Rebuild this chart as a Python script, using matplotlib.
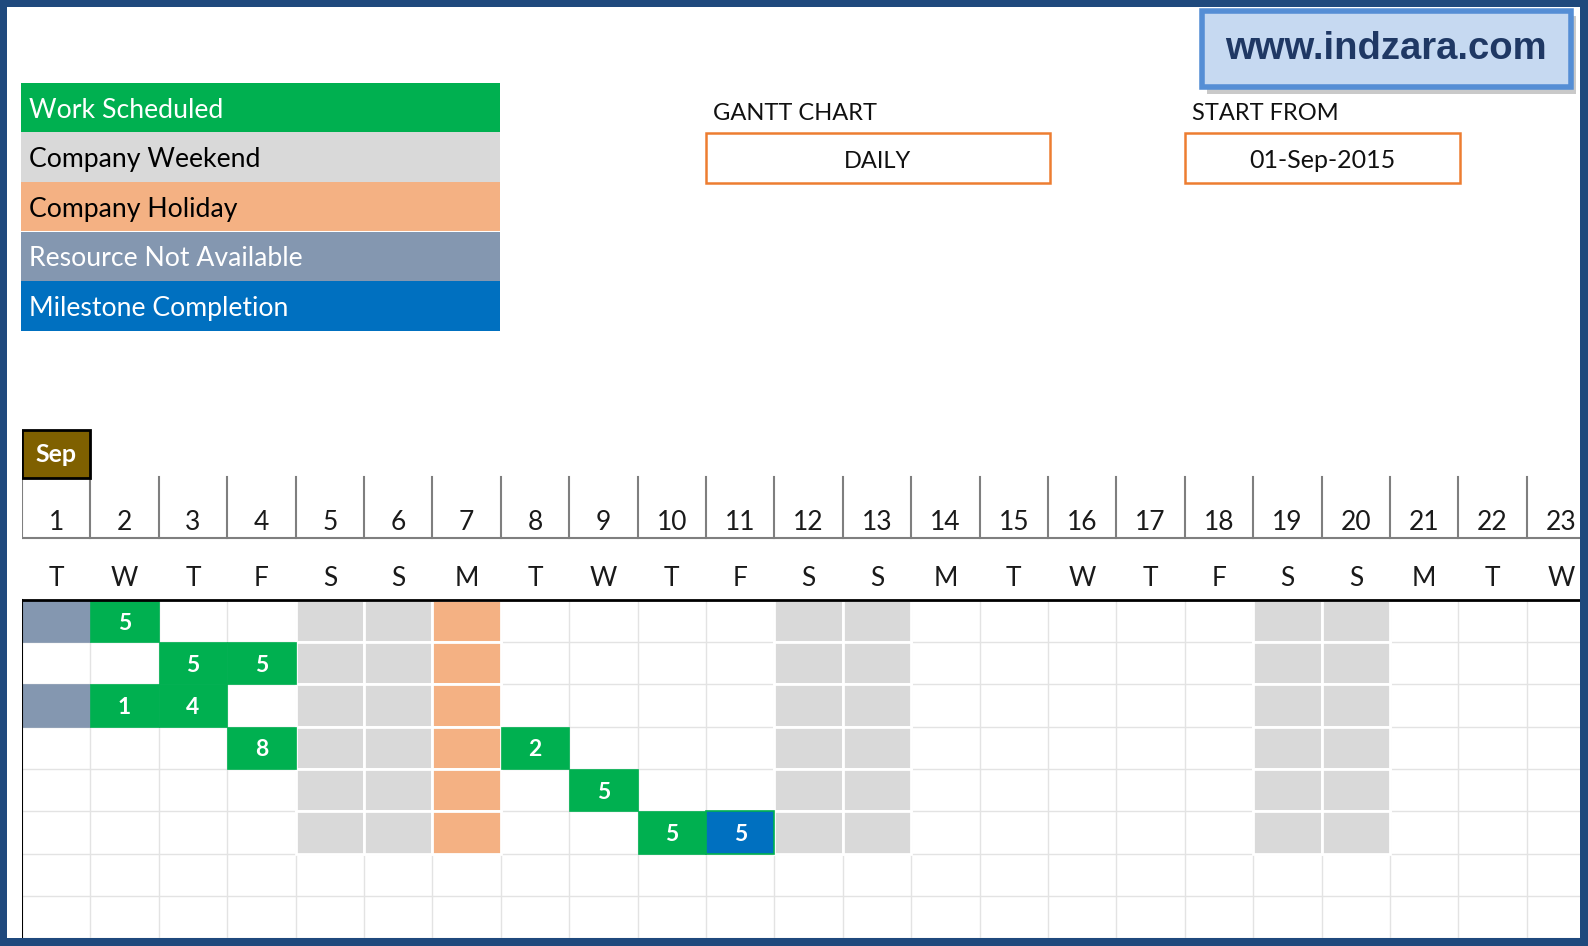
#!/usr/bin/env python3
"""
Daily gantt chart snapshot (indzara template look)
"""

import matplotlib
matplotlib.use("Agg")
from matplotlib import pyplot as plt
from matplotlib.patches import Rectangle

plt.rcParams["font.family"] = ["Lato", "DejaVu Sans"]

# ---- data ----
legend_labels = ["Work Scheduled", "Company Weekend", "Company Holiday",
                 "Resource Not Available", "Milestone Completion"]
legend_colors = ["#00b050", "#d9d9d9", "#f4b183", "#8497b0", "#0070c0"]
legend_text_colors = ["white", "black", "black", "white", "white"]

month_label = "Sep"
days = list(range(1, 24))
day_letters = ["T", "W", "T", "F", "S", "S", "M", "T", "W", "T", "F", "S",
               "S", "M", "T", "W", "T", "F", "S", "S", "M", "T", "W"]
weekend_days = [5, 6, 12, 13, 19, 20]
holiday_days = [7]
task_rows = 6
total_rows = 8

work_rows = [1, 2, 2, 3, 3, 4, 4, 5, 6]
work_days = [2, 3, 4, 2, 3, 4, 8, 9, 10]
work_hours = [5, 5, 5, 1, 4, 8, 2, 5, 5]

milestone_rows = [6]
milestone_days = [11]
milestone_hours = [5]

unavail_rows = [1, 3]
unavail_days = [1, 1]

chart_type = "DAILY"
start_from = "01-Sep-2015"
site = "www.indzara.com"

# ---- figure ----
W, H = 1588, 946
fig = plt.figure(figsize=(W / 100, H / 100), dpi=100)

bg = fig.add_axes([0, 0, 1, 1])
bg.set_xlim(0, W); bg.set_ylim(H, 0); bg.axis("off")

# legend block
for i, (lab, col, tc) in enumerate(zip(legend_labels, legend_colors, legend_text_colors)):
    y0 = 83 + i * 49.5
    bg.add_patch(Rectangle((21, y0), 479, 49.5, fc=col, ec="none"))
    bg.text(29, y0 + 27, lab, color=tc, fontsize=19.2, va="center", ha="left")

# gantt chart / start from boxes
bg.text(713, 113, "GANTT CHART", fontsize=17, va="center", color="#111111")
bg.add_patch(Rectangle((706, 133), 344, 50, fc="white", ec="#ed7d31", lw=1.8))
bg.text(878, 162, chart_type, fontsize=17, va="center", ha="center", color="#111111")

bg.text(1192, 113, "START FROM", fontsize=17, va="center", color="#111111")
bg.add_patch(Rectangle((1185, 133), 275, 50, fc="white", ec="#ed7d31", lw=1.8))
bg.text(1322, 161, start_from, fontsize=18, va="center", ha="center", color="#111111")

# site badge with shadow
bg.add_patch(Rectangle((1207, 16), 369, 78, fc="#a6a6a6", ec="none", alpha=0.6))
bg.add_patch(Rectangle((1202, 11), 369, 76, fc="#c6d9f1", ec="#558ed5", lw=4))
bg.text(1386, 49, site, fontsize=27.5, fontweight="bold", family="Liberation Sans",
        va="center", ha="center", color="#1f3864")

# ---- gantt grid ----
col_w = 68.4
row_h = 42.25
x_left, x_right = 22, 1580
y_top, y_bot = 425, 938
ax = fig.add_axes([x_left / W, (H - y_bot) / H, (x_right - x_left) / W, (y_bot - y_top) / H])
ax.set_xlim(0.5, 0.5 + (x_right - x_left) / col_w)
ax.set_ylim(total_rows, -(600 - y_top) / row_h)
ax.axis("off")

xmax = ax.get_xlim()[1]

# light cell grid
for d in days:
    ax.plot([d + 0.5, d + 0.5], [0, total_rows], color="#e3e3e3", lw=1, zorder=1)
for r in range(1, total_rows + 1):
    ax.plot([0.5, xmax], [r, r], color="#e3e3e3", lw=1, zorder=1)

# weekends and holidays
for d in weekend_days:
    for r in range(task_rows):
        ax.add_patch(Rectangle((d - 0.5, r), 1, 1, fc="#d9d9d9", ec="white", lw=2, zorder=2))
for d in holiday_days:
    for r in range(task_rows):
        ax.add_patch(Rectangle((d - 0.5, r), 1, 1, fc="#f4b183", ec="white", lw=2, zorder=2))

# resource not available
for r, d in zip(unavail_rows, unavail_days):
    ax.add_patch(Rectangle((d - 0.5, r - 1), 1, 1, fc="#8497b0", ec="#8497b0", lw=0.5, zorder=3))

# work scheduled
for r, d, h in zip(work_rows, work_days, work_hours):
    ax.add_patch(Rectangle((d - 0.5, r - 1), 1, 1, fc="#00b050", ec="#00b050", lw=0.5, zorder=3))
    ax.text(d, r - 0.45, str(h), color="white", fontsize=16.5, fontweight="bold",
            ha="center", va="center", zorder=4)

# milestone
for r, d, h in zip(milestone_rows, milestone_days, milestone_hours):
    ax.add_patch(Rectangle((d - 0.5, r - 1), 1, 1, fc="#0070c0", ec="#00b050", lw=1.2, zorder=3))
    ax.text(d, r - 0.45, str(h), color="white", fontsize=16.5, fontweight="bold",
            ha="center", va="center", zorder=4)

# header lines
y_hdr_top = -(600 - 477) / row_h
y_hdr_line = -(600 - 538) / row_h
for d in days:
    ax.plot([d - 0.5, d - 0.5], [y_hdr_top, y_hdr_line], color="#7f7f7f", lw=1.5, zorder=2)
ax.plot([0.5, xmax], [y_hdr_line, y_hdr_line], color="#7f7f7f", lw=1.5, zorder=2)

# day numbers and weekday letters
for d, letter in zip(days, day_letters):
    ax.text(d, -(600 - 523) / row_h, str(d), fontsize=19, ha="center", va="center", color="#1a1a1a")
    ax.text(d, -(600 - 579) / row_h, letter, fontsize=19, ha="center", va="center", color="#1a1a1a")

# month box
ax.add_patch(Rectangle((0.5, -(600 - 430) / row_h), 1, (478 - 430) / row_h,
                       fc="#7f6000", ec="black", lw=2, zorder=5))
ax.text(1, -(600 - 455) / row_h, month_label, color="white", fontsize=18, fontweight="bold",
        ha="center", va="center", zorder=6)

# black borders of the grid
ax.plot([0.5, xmax], [0, 0], color="black", lw=2, zorder=5)
ax.plot([0.5, 0.5], [0, total_rows], color="black", lw=1.5, zorder=5)

# outer frame on top
fr = fig.add_axes([0, 0, 1, 1], facecolor="none")
fr.set_xlim(0, W); fr.set_ylim(H, 0); fr.axis("off")
frame_col = "#1f497d"
fr.add_patch(Rectangle((0, 0), W, 7, fc=frame_col, ec="none"))
fr.add_patch(Rectangle((0, 938), W, 8, fc=frame_col, ec="none"))
fr.add_patch(Rectangle((0, 0), 7, H, fc=frame_col, ec="none"))
fr.add_patch(Rectangle((1580, 0), 8, H, fc=frame_col, ec="none"))

plt.savefig("out.png", dpi=100)
plt.close()
